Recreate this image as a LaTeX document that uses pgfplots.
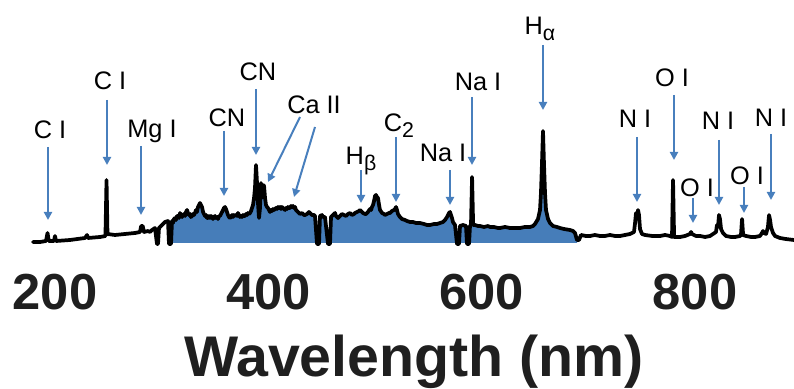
\documentclass[border=0pt]{standalone}
\usepackage{fontspec}
\setmainfont{Liberation Sans}
\usepackage{pgfplots}
\usepackage{pgfplotstable}
\pgfplotsset{compat=1.18}
\usetikzlibrary{arrows.meta}
\definecolor{fillblue}{RGB}{70,125,185}
\definecolor{arrowblue}{RGB}{72,127,189}

\pgfplotstableread{
x y
179.38 1
185.94 1
191.56 2
193.00 10
194.20 2
199.06 2
200.00 7
200.94 2
214.06 3
228.13 5
230.00 8
230.94 5
242.19 6
247.30 7
248.30 63
249.20 9
256.25 8
265.63 9
275.00 10
279.69 11
280.80 17
282.20 17
283.44 11
287.19 12
289.06 11
290.94 13
293.75 15
295.63 -1
296.56 -1
297.50 15
300.31 18
303.13 21
305.94 22
306.88 -1
308.75 -1
309.69 22
310.60 20
311.60 24
312.50 25
313.40 23
314.40 27
315.31 27
316.30 25
317.19 30
318.10 27
319.06 26
320.00 28
320.94 29
321.90 27
322.80 31
323.75 33
324.70 30
325.63 28
326.60 29
327.50 26
328.44 27
329.40 29
330.30 28
331.25 30
332.20 33
333.10 31
334.06 36
335.00 38
335.94 40
336.90 38
337.81 36
338.80 31
339.69 29
340.60 27
341.60 28
342.50 25
343.44 25
344.40 27
345.30 25
346.30 27
347.19 26
348.10 24
349.10 26
350.00 27
350.94 25
351.90 26
352.80 24
353.80 27
354.69 27
355.60 29
356.60 31
357.50 33
358.40 35
359.38 36
360.30 34
361.25 31
362.20 28
363.10 26
364.06 25
365.00 26
366.00 28
366.90 26
367.80 28
368.75 27
369.70 28
370.60 27
371.56 30
372.50 28
373.44 26
374.40 27
375.30 26
376.30 28
377.20 27
378.13 27
379.10 29
380.00 28
380.90 30
381.90 29
382.81 30
383.80 32
384.70 35
385.63 38
386.60 45
387.50 55
388.44 78
389.38 60
390.31 40
391.25 25
392.19 35
393.13 60
393.80 45
394.50 48
395.30 58
396.00 57
396.90 45
397.81 38
398.80 36
399.69 35
400.60 33
401.56 31
402.50 33
403.40 32
404.40 34
405.30 33
406.25 34
407.20 35
408.10 34
409.10 36
410.00 35
410.94 36
411.90 34
412.80 36
413.80 35
414.70 34
415.63 33
416.60 35
417.50 34
418.40 36
419.40 35
420.31 35
421.30 37
422.20 36
423.13 37
424.10 35
425.00 36
425.94 33
427.80 31
429.69 29
431.60 30
433.40 28
434.38 28
436.30 29
438.10 31
439.06 30
440.90 28
442.80 28
443.75 27
445.63 -1
447.50 -1
448.44 27
450.30 28
451.20 26
453.13 26
455.94 -1
457.81 -1
458.75 26
460.60 28
462.50 30
463.40 27
464.40 26
465.31 25
467.20 27
469.06 29
470.90 28
472.81 27
474.70 29
476.56 30
478.40 28
480.30 29
481.25 30
483.10 31
485.00 32
485.94 33
486.90 32
487.80 31
488.75 30
490.60 29
491.56 29
493.40 31
495.31 34
496.30 33
497.20 36
498.13 38
499.10 42
500.00 47
500.94 48
501.90 46
502.81 45
503.80 38
504.69 33
506.60 30
508.40 29
509.38 28
511.30 29
513.10 30
514.06 30
515.90 32
517.81 33
518.80 34
519.69 36
520.60 33
521.56 29
523.40 26
525.31 24
528.10 23
530.00 22
532.81 21
535.60 21
538.40 20
542.19 20
545.90 19
548.80 18
551.56 18
555.30 19
558.10 19
560.94 20
563.70 21
565.63 23
567.50 26
568.44 28
569.40 30
570.31 31
571.20 28
572.19 25
573.10 21
575.00 18
576.88 -1
578.75 -1
579.69 17
582.50 18
585.31 17
586.25 -1
588.13 -1
589.06 17
590.00 18
591.00 66
592.00 18
593.75 18
596.60 17
598.44 17
602.20 16
605.90 17
607.81 16
611.60 16
615.30 15
617.19 15
621.90 16
626.56 15
630.30 15
635.94 15
640.60 16
645.31 16
648.10 17
650.00 19
652.81 24
654.69 33
655.60 50
656.56 80
657.50 112
658.40 80
659.38 50
660.31 33
662.19 24
664.06 20
666.88 17
670.60 16
673.44 15
677.20 14
682.81 13
685.60 12
687.50 10
689.38 3
691.25 3
693.13 8
697.80 7
701.56 7
706.20 8
710.94 7
715.60 7
720.31 8
725.00 7
729.69 7
734.40 8
739.06 9
742.81 11
743.80 20
744.69 30
745.60 24
746.56 33
747.50 28
748.44 14
750.31 9
753.13 8
760.00 7
767.19 7
771.88 8
776.56 7
778.44 6
779.40 63
780.40 6
782.19 6
785.94 6
790.63 7
795.31 9
796.30 11
797.19 9
799.06 8
800.94 7
804.69 7
809.40 6
814.06 7
819.69 11
820.60 18
821.56 16
822.50 28
823.44 24
824.40 14
826.25 10
829.06 7
833.80 6
837.50 6
842.19 7
843.10 8
844.10 24
845.10 8
847.81 7
852.50 6
856.25 6
860.94 7
862.80 10
863.75 12
864.70 10
866.60 9
868.40 16
869.40 28
870.40 23
871.25 16
873.13 10
875.00 7
879.69 5
885.00 4
892.81 3
}\spectrum

\newcommand{\lab}{\fontsize{19}{19}\selectfont}
\newcommand{\sub}[1]{\raisebox{-4.5pt}{\fontsize{16}{16}\selectfont #1}}

\begin{document}
\begin{tikzpicture}
\useasboundingbox (0,0) rectangle (595.5pt,291.75pt);
\begin{axis}[
  at={(0pt,100.5pt)}, anchor=south west,
  scale only axis, width=595.5pt, height=191.25pt,
  xmin=148.4375, xmax=892.8125, ymin=-12, ymax=243,
  clip=false,
  axis line style={draw=none}, tick style={draw=none},
  ytick=\empty, xtick={200,400,600,800},
  /pgf/number format/assume math mode=true,
  xticklabel style={font=\bfseries\fontsize{38}{38}\selectfont, text=black!88, anchor=base, yshift=-41.25pt},
  xlabel={Wavelength (nm)},
  xlabel style={font=\bfseries\fontsize{43}{43}\selectfont, text=black!88, at={(axis description cs:0.5214,0)}, anchor=base, yshift=-91.5pt},
]
\addplot[fill=fillblue, draw=none, restrict x to domain=306:690] table[x=x,y=y]{\spectrum} \closedcycle;
\addplot[black, line width=2.8pt, line join=round, line cap=round] table[x=x,y=y]{\spectrum};
\end{axis}
\begin{scope}[yshift=291.75pt, x=0.75pt, y=-0.75pt]
  \begin{scope}[arrowblue, line width=1.5pt, -{Triangle[length=6pt,width=6pt]}]
    \draw (48,147) -- (48,220);
    \draw (107,100) -- (107,165);
    \draw (141,146) -- (141,215);
    \draw (224,131) -- (224,196);
    \draw (256,89) -- (256,155);
    \draw (300,117) -- (268,182);
    \draw (315,127) -- (294,197);
    \draw (361,170) -- (361,203);
    \draw (396,137) -- (396,202);
    \draw (450,170) -- (450,205);
    \draw (472,97) -- (472,165);
    \draw (543,45) -- (543,110);
    \draw (637,137) -- (637,202);
    \draw (674,95) -- (674,160);
    \draw (693,198) -- (693,223);
    \draw (719,140) -- (719,205);
    \draw (744,187) -- (744,213);
    \draw (771,134) -- (771,200);
  \end{scope}
  \begin{scope}[every node/.style={anchor=base, inner sep=0pt, font=\lab}]
    \node at (50,139) {C I};
    \node at (110,90) {C I};
    \node at (152,138) {Mg I};
    \node at (227,127) {CN};
    \node at (258,81) {CN};
    \node at (314,114) {Ca II};
    \node at (361,165) {H\sub{β}};
    \node at (399,132) {C\sub{2}};
    \node at (443,162) {Na I};
    \node at (478,91) {Na I};
    \node at (540,35) {H\sub{α}};
    \node at (635,128) {N I};
    \node at (672,87) {O I};
    \node at (697,197) {O I};
    \node at (718,130) {N I};
    \node at (747,185) {O I};
    \node at (771,127) {N I};
  \end{scope}
\end{scope}
\end{tikzpicture}
\end{document}
